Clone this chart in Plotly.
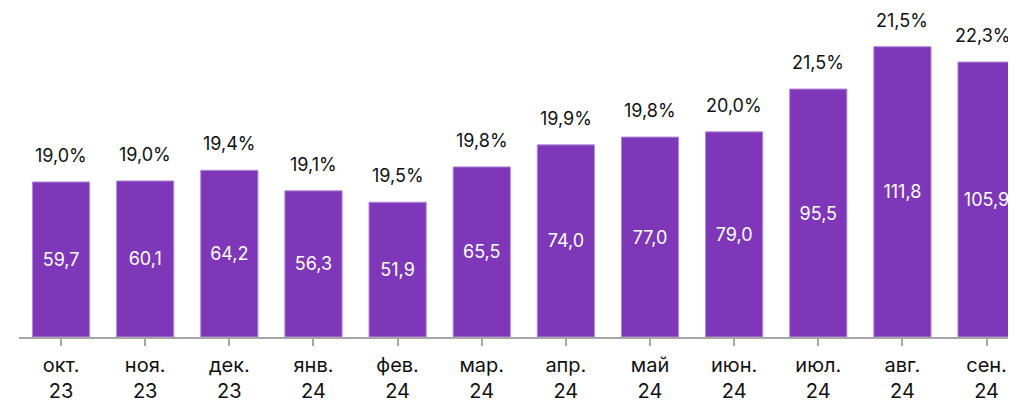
import plotly.graph_objects as go

categories = ["окт.<br>23", "ноя.<br>23", "дек.<br>23", "янв.<br>24", "фев.<br>24", "мар.<br>24",
              "апр.<br>24", "май<br>24", "июн.<br>24", "июл.<br>24", "авг.<br>24", "сен.<br>24"]
values = [59.7, 60.1, 64.2, 56.3, 51.9, 65.5, 74.0, 77.0, 79.0, 95.5, 111.8, 105.9]
shares = [19.0, 19.0, 19.4, 19.1, 19.5, 19.8, 19.9, 19.8, 20.0, 21.5, 21.5, 22.3]

def ru(v, d=1):
    return f"{v:.{d}f}".replace(".", ",")

FONT = "Inter, Roboto, sans-serif"
x_idx = list(range(len(categories)))

fig = go.Figure()
fig.add_trace(go.Bar(
    x=x_idx, y=values,
    marker=dict(color="#7F37B9", line=dict(color="#B48CDA", width=1)),
    text=[ru(v) for v in values],
    textposition="inside", insidetextanchor="middle",
    textfont=dict(color="white", size=18, family=FONT),
    textangle=0,
    cliponaxis=False,
))

for i, (v, s) in enumerate(zip(values, shares)):
    fig.add_annotation(x=i, y=v, text=ru(s) + "%", showarrow=False,
                       yanchor="bottom", yshift=14,
                       xshift=-4 if i == len(values) - 1 else 0,
                       font=dict(size=18, color="#111111", family=FONT))

fig.update_layout(
    width=1008, height=395,
    margin=dict(l=11, r=0, t=0, b=66, autoexpand=False),
    plot_bgcolor="white", paper_bgcolor="white",
    bargap=0.32,
    showlegend=False,
    xaxis=dict(
        range=[-0.5, 11.35],
        automargin=False,
        tickmode="array", tickvals=x_idx, ticktext=categories,
        tickson="boundaries", ticks="outside", ticklen=7, tickcolor="#A6A6A6", tickwidth=1.5,
        showline=True, linecolor="#A6A6A6", linewidth=1.5,
        ticklabelstandoff=2,
        tickfont=dict(size=20, color="#111111", family=FONT),
        showgrid=False, zeroline=False,
    ),
    yaxis=dict(range=[0, 126.7], visible=False, showgrid=False, zeroline=False, automargin=False),
    uniformtext=dict(mode=False),
)

fig.write_html("out.html", config={"displayModeBar": False})
